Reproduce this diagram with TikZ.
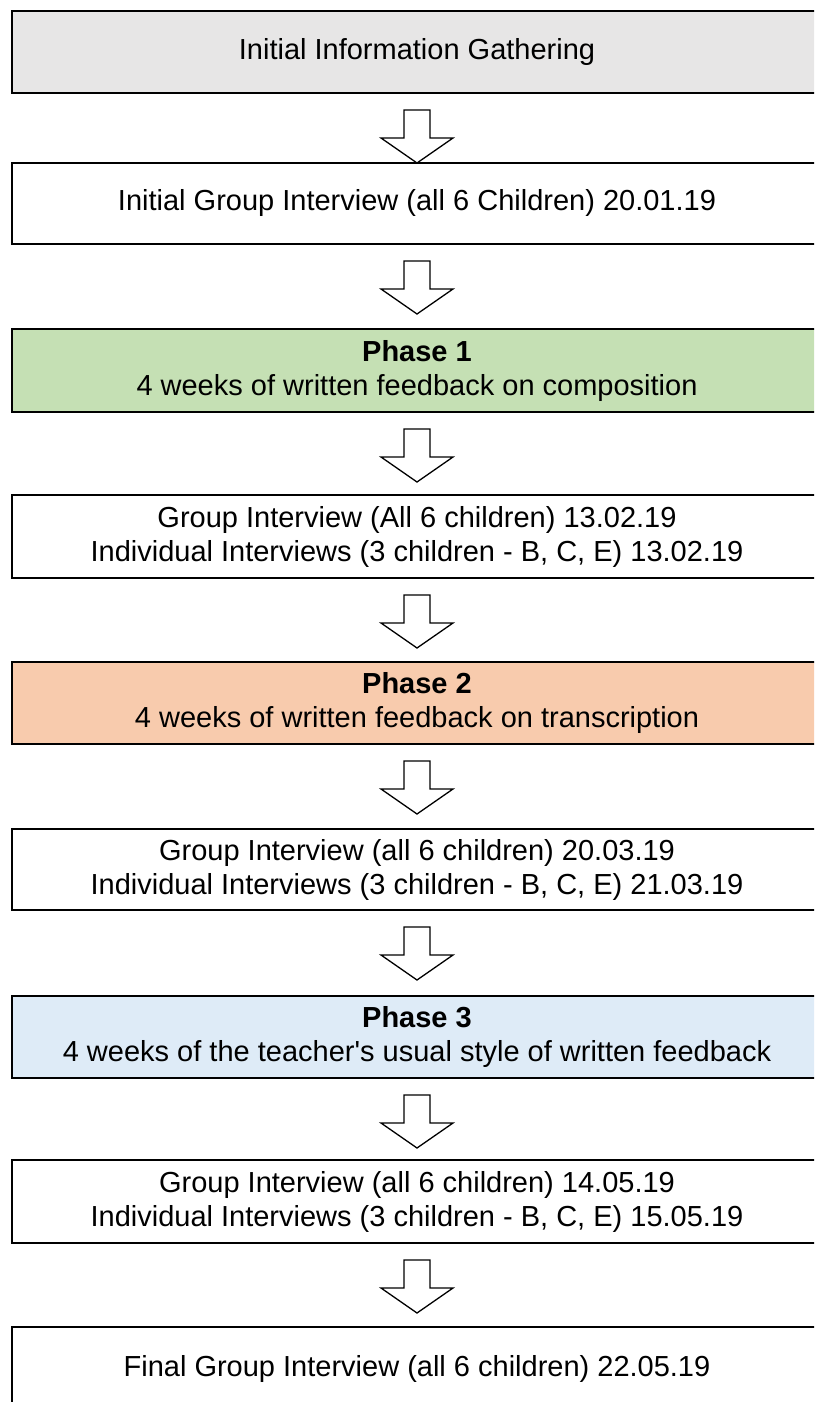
\documentclass[tikz,border=0pt]{standalone}
\usepackage{fontspec}
\setmainfont{Liberation Sans}
\usetikzlibrary{calc}
\definecolor{boxgray}{HTML}{E7E6E6}
\definecolor{phasegreen}{HTML}{C5E0B4}
\definecolor{phaseorange}{HTML}{F8CBAD}
\definecolor{phaseblue}{HTML}{DEEBF7}
\tikzset{
  stagebox/.style={draw=black, line width=2pt, fill=white, minimum width=810pt,
    inner sep=0pt, align=center, font=\fontsize{29}{34}\selectfont, anchor=north},
  blockarr/.style={draw=black, line width=1.3pt, fill=white, line join=miter},
}
% hollow block arrow hanging below a node
\newcommand\blockarrow[1]{%
  \draw[blockarr] ($(#1.south)+(-13pt,-16pt)$) -- ++(26pt,0) -- ++(0,-28pt)
    -- ++(23pt,0) -- ($(#1.south)+(0,-69pt)$) -- ($(#1.south)+(-36pt,-44pt)$)
    -- ++(23pt,0) -- cycle;}
\begin{document}
\begin{tikzpicture}[x=1pt,y=1pt]
\useasboundingbox (0,0) rectangle (814,-1402);
\clip (0,0) rectangle (814,-1402);
\node[stagebox, fill=boxgray, minimum height=82pt] (b1) at (417,-10) {Initial Information Gathering};
\node[stagebox, minimum height=81pt] (b2) at (417,-162) {Initial Group Interview (all 6 Children) 20.01.19};
\node[stagebox, fill=phasegreen, minimum height=83pt] (p1) at (417,-328) {\textbf{Phase 1}\\4 weeks of written feedback on composition};
\node[stagebox, minimum height=83pt] (b4) at (417,-494) {Group Interview (All 6 children) 13.02.19\\Individual Interviews (3 children - B, C, E) 13.02.19};
\node[stagebox, fill=phaseorange, minimum height=82pt] (p2) at (417,-661) {\textbf{Phase 2}\\4 weeks of written feedback on transcription};
\node[stagebox, minimum height=81pt] (b6) at (417,-828) {Group Interview (all 6 children) 20.03.19\\Individual Interviews (3 children - B, C, E) 21.03.19};
\node[stagebox, fill=phaseblue, minimum height=82pt] (p3) at (417,-995) {\textbf{Phase 3}\\4 weeks of the teacher\textquotesingle s usual style of written feedback};
\node[stagebox, minimum height=83pt] (b8) at (417,-1159) {Group Interview (all 6 children) 14.05.19\\Individual Interviews (3 children - B, C, E) 15.05.19};
\node[stagebox, minimum height=84pt] (b9) at (417,-1326) {Final Group Interview (all 6 children) 22.05.19};
\foreach \n in {b1,b2,p1,b4,p2,b6,p3,b8} {\blockarrow{\n}}
\end{tikzpicture}
\end{document}
